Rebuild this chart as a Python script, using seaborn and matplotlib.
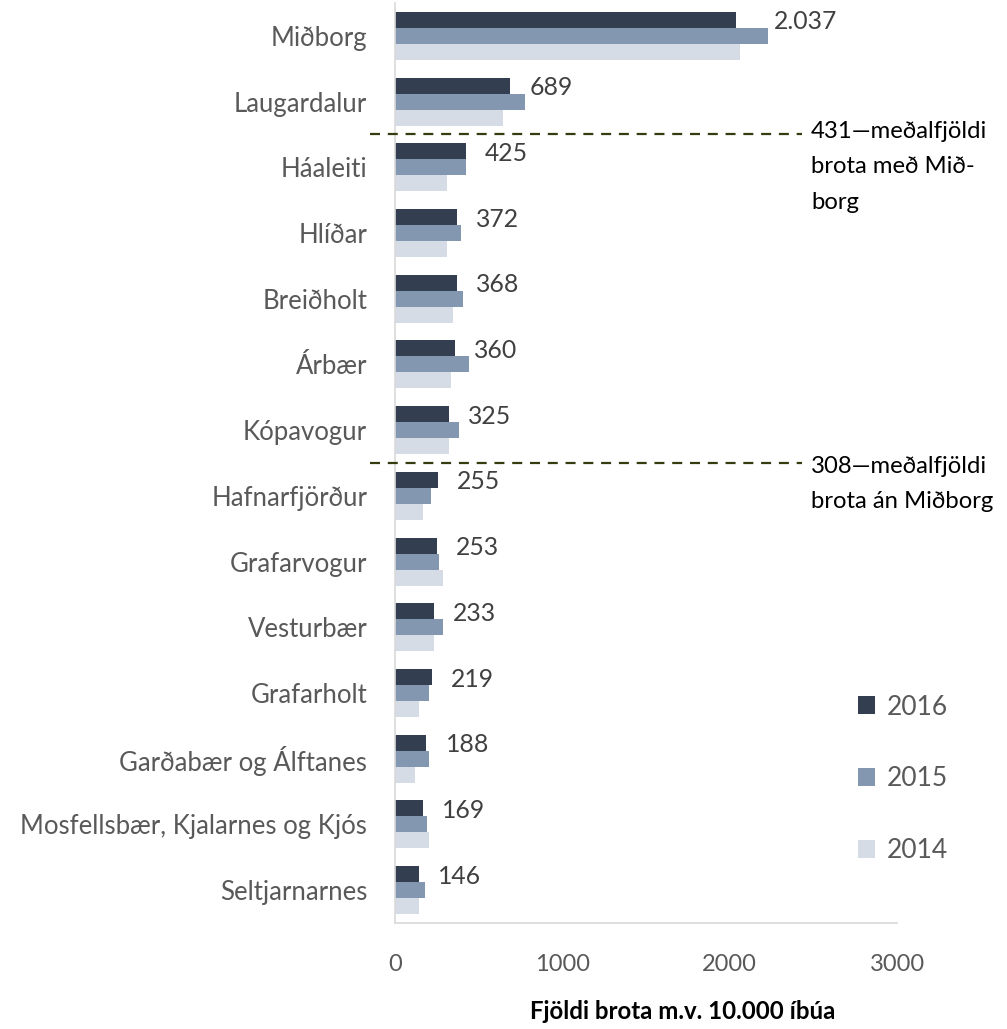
import matplotlib
matplotlib.use("Agg")
import matplotlib.pyplot as plt
import seaborn as sns
import pandas as pd
import numpy as np

categories = ["Miðborg", "Laugardalur", "Háaleiti", "Hlíðar", "Breiðholt", "Árbær",
              "Kópavogur", "Hafnarfjörður", "Grafarvogur", "Vesturbær", "Grafarholt",
              "Garðabær og Álftanes", "Mosfellsbær, Kjalarnes og Kjós", "Seltjarnarnes"]
years = ["2016", "2015", "2014"]
values_2016 = [2037, 689, 425, 372, 368, 360, 325, 255, 253, 233, 219, 188, 169, 146]
values_2015 = [2228, 778, 425, 395, 407, 443, 383, 215, 263, 287, 204, 204, 192, 180]
values_2014 = [2060, 647, 311, 311, 347, 335, 323, 168, 287, 233, 144, 120, 204, 146]
avg_with = 431
avg_without = 308
avg_with_text = "431—meðalfjöldi\nbrota með Mið-\nborg"
avg_without_text = "308—meðalfjöldi\nbrota án Miðborg"
xticks = [0, 1000, 2000, 3000]
xlabel = "Fjöldi brota m.v. 10.000 íbúa"
colors = ["#333F50", "#8497B0", "#D6DCE5"]

rows = []
for yr, vals in zip(years, [values_2016, values_2015, values_2014]):
    for c, v in zip(categories, vals):
        rows.append({"cat": c, "year": yr, "value": v})
df = pd.DataFrame(rows)

sns.set_style("white")
plt.rcParams["font.family"] = ["Lato", "DejaVu Sans"]

fig = plt.figure(figsize=(10.07, 10.29), dpi=100)
ax = fig.add_axes([395/1007, 1-923/1029, 502/1007, 920/1029])

sns.barplot(data=df, y="cat", x="value", hue="year", hue_order=years,
            order=categories, palette=colors, width=0.73, ax=ax,
            saturation=1, edgecolor="none", legend=True)

ax.set_xlim(0, 3000)
ax.set_ylim(len(categories) - 0.5, -0.5)
ax.set_xticks(xticks)
ax.set_xticklabels([str(t) for t in xticks])
ax.tick_params(axis="x", length=6, width=1, color="#D9D9D9", pad=16,
               labelsize=17, labelcolor="#595959", direction="out")
ax.tick_params(axis="y", length=0, pad=20, labelsize=18.5, labelcolor="#595959")
for s in ["top", "right"]:
    ax.spines[s].set_visible(False)
for s in ["left", "bottom"]:
    ax.spines[s].set_color("#D9D9D9")
    ax.spines[s].set_linewidth(1.2)
ax.set_ylabel("")
ax.set_xlabel(xlabel, fontsize=17.3, fontweight="bold", color="black", labelpad=18)
ax.xaxis.label.set_x((683 - 395) / 502)

# value labels for 2016
px_per_unit = 502 / 3000
bars16 = ax.containers[0]
for bar, v16, v15 in zip(bars16, values_2016, values_2015):
    yc = bar.get_y() + bar.get_height() / 2
    if v15 > v16 + 19 / px_per_unit:
        xv, off = v15, 6
    else:
        xv, off = v16, 19
    ax.annotate(f"{v16:,}".replace(",", "."), xy=(xv, yc),
                xytext=(off * 0.72, -1.5), textcoords="offset points",
                ha="left", va="center", fontsize=17.8, color="#404040",
                annotation_clip=False)

# average lines (between category groups)
trans = matplotlib.transforms.blended_transform_factory(ax.transAxes, ax.transData)
for ypos in [1.5, 6.5]:
    ax.plot([-0.05, 0.81], [ypos, ypos], transform=trans, color="#333D10",
            lw=1.6, ls=(0, (4.5, 3.5)), clip_on=False, zorder=5)

fig.text(811/1007, 1-121/1029, avg_with_text, ha="left", va="top",
         fontsize=17.2, color="black", linespacing=1.84)
fig.text(811/1007, 1-456/1029, avg_without_text, ha="left", va="top",
         fontsize=17.2, color="black", linespacing=1.84)

handles, labels = ax.get_legend_handles_labels()
ax.get_legend().remove()
fig.legend(handles, labels, loc="center left",
           bbox_to_anchor=(845/1007, 1-779/1029), frameon=False,
           fontsize=19, labelspacing=1.78, handlelength=0.65, handleheight=0.65,
           handletextpad=0.45, borderpad=0, labelcolor="#595959")

fig.savefig("out.png", dpi=100)
